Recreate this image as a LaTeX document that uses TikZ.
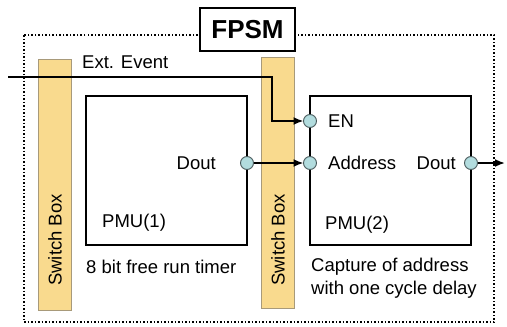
\documentclass[tikz,border=0pt]{standalone}
\usepackage{fontspec}
\setmainfont{Liberation Sans}
\usetikzlibrary{arrows.meta, positioning}
\definecolor{swfill}{HTML}{F9DA8E}
\definecolor{swline}{HTML}{A89A7A}
\definecolor{portfill}{HTML}{B2DCDE}
\definecolor{portline}{HTML}{4A5A5C}

\begin{document}
\begin{tikzpicture}[
  x=1pt, y=-1pt,
  txt/.style={font=\fontsize{18.5}{23}\selectfont, inner sep=0pt},
  pmu/.style={draw, line width=1.4pt, minimum width=161pt, minimum height=149pt},
  swbox/.style={draw=swline, fill=swfill, line width=0.8pt, minimum width=33pt, minimum height=251pt},
  port/.style={circle, draw=portline, fill=portfill, line width=0.9pt, minimum size=13pt, inner sep=0pt},
  wire/.style={line width=1.8pt, -{Latex[length=10pt,width=8pt]}}
]
  \useasboundingbox (0,0) rectangle (507,327);

  % FPSM frame
  \draw[dotted, line width=1.5pt] (24,35) rectangle (494,322);
  \node[draw, fill=white, line width=1.6pt, minimum width=95pt, minimum height=43pt,
        font=\fontsize{26}{30}\selectfont\bfseries] (fpsm) at (247.5,29.5) {FPSM};

  % switch boxes
  \node[swbox] (sw1) at (55,184.5) {};
  \node[swbox] (sw2) at (278,182.5) {};
  \node[txt, rotate=90] (sw1txt) at (55,240) {Switch Box};
  \node[txt, rotate=90] (sw2txt) at (278,240) {Switch Box};

  % PMUs
  \node[pmu] (pmu1) at (166.5,170.5) {};
  \node[pmu] (pmu2) at (390.5,170.5) {};

  \node[txt, anchor=east] (d1txt) at (216,163) {Dout};
  \node[txt, anchor=west] (p1txt) at (102,223) {PMU(1)};
  \node[txt, anchor=west] (p1cap) at (86,267) {8 bit free run timer};

  \node[txt, anchor=west] (entxt) at (328,121) {EN};
  \node[txt, anchor=west] (addrtxt) at (328,163) {Address};
  \node[txt, anchor=east] (d2txt) at (456,163) {Dout};
  \node[txt, anchor=west] (p2txt) at (325,225) {PMU(2)};
  \node[txt, anchor=west, align=left] (p2cap) at (311,278) {Capture of address\\with one cycle delay};

  % wires
  \node[txt, anchor=west] (evtxt) at (82,62) {Ext. Event};
  \coordinate (extin) at (8,77);
  \coordinate (bend) at (272,77);
  \coordinate (out) at (505,163);
  \coordinate (p1dout) at (247,163);
  \coordinate (p2en) at (310,121);
  \coordinate (p2addr) at (310,163);
  \coordinate (p2dout) at (471,163);

  \draw[wire] (extin) -- (bend) |- ([xshift=-6.5pt]p2en);
  \draw[wire] (p1dout) -- ([xshift=-6.5pt]p2addr);
  \draw[wire] (p2dout) -- (out);

  \node[port] (c1) at (p1dout) {};
  \node[port] (c2) at (p2en) {};
  \node[port] (c3) at (p2addr) {};
  \node[port] (c4) at (p2dout) {};
\end{tikzpicture}
\end{document}
